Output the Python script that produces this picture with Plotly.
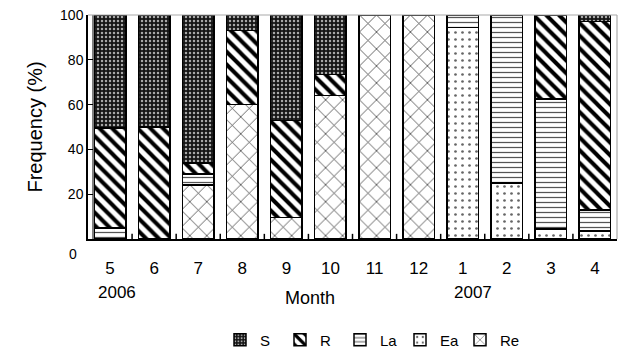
import plotly.graph_objects as go

months = ["5", "6", "7", "8", "9", "10", "11", "12", "1", "2", "3", "4"]
S = [50.5, 50, 66, 7, 47, 26.5, 0, 0, 0, 0, 0, 3]
R = [44.5, 50, 5, 33, 43.5, 9.5, 0, 0, 0, 0, 37.5, 84]
La = [5, 0, 5, 0, 0, 0, 0, 0, 5.5, 75, 58, 9.5]
Ea = [0, 0, 0, 0, 0, 0, 0, 0, 94.5, 25, 4.5, 3.5]
Re = [0, 0, 24, 60, 9.5, 64, 100, 100, 0, 0, 0, 0]
y_ticks = [20, 40, 60, 80, 100]

x = list(range(len(months)))
FONT = "Liberation Sans, Arial, sans-serif"

styles = {
    "S": dict(shape=".", bgcolor="#151515", fgcolor="#a8a8a8", size=4, solidity=0.3),
    "R": dict(shape="\\", bgcolor="white", fgcolor="black", size=9, solidity=0.45),
    "La": dict(shape="-", bgcolor="white", fgcolor="#555555", size=5, solidity=0.25),
    "Ea": dict(shape=".", bgcolor="white", fgcolor="#666666", size=7, solidity=0.12),
    "Re": dict(shape="x", bgcolor="white", fgcolor="#333333", size=12, solidity=0.12),
}

fig = go.Figure()
for name, vals in [("Re", Re), ("Ea", Ea), ("La", La), ("R", R), ("S", S)]:
    st = styles[name]
    yv = [v if v > 0 else None for v in vals]
    fig.add_trace(go.Bar(
        x=x, y=yv, name=name, width=0.715,
        marker=dict(color=st["bgcolor"], line=dict(color="black", width=1.5),
                    pattern=dict(shape=st["shape"], bgcolor=st["bgcolor"], fgcolor=st["fgcolor"],
                                 size=st["size"], solidity=st["solidity"], fillmode="replace")),
    ))

fig.update_layout(
    barmode="stack",
    width=622, height=354,
    margin=dict(l=88, r=5, t=15, b=115, autoexpand=False),
    paper_bgcolor="white", plot_bgcolor="white",
    font=dict(family=FONT, color="black"),
    showlegend=True,
    legend=dict(orientation="h", traceorder="reversed", xref="container", yref="container",
                x=220 / 622, xanchor="left", y=14 / 354, yanchor="middle",
                font=dict(size=15), itemwidth=30, entrywidth=15, entrywidthmode="pixels"),
    xaxis=dict(range=[-0.5, 11.5], tickmode="array", tickvals=x, ticktext=months,
               showline=True, linecolor="black", linewidth=1.5, ticks="",
               showgrid=False, zeroline=False, tickfont=dict(size=17),
               ticklabelstandoff=13, automargin=False),
    yaxis=dict(range=[0, 100], tickmode="array", tickvals=y_ticks,
               showline=True, linecolor="black", linewidth=1.5, ticks="inside", ticklen=5,
               tickcolor="black", tickwidth=1.2, automargin=False,
               showgrid=False, zeroline=False, tickfont=dict(size=14),
               title=dict(text="Frequency (%)", font=dict(size=20), standoff=12)),
)

# minor ticks at the category boundaries on the bottom axis
for i in range(len(months) - 1):
    fig.add_shape(type="line", xref="x", yref="y", x0=i + 0.5, x1=i + 0.5, y0=0, y1=2.3,
                  line=dict(color="black", width=1.5))
# inner line of the left axis frame
fig.add_shape(type="line", xref="paper", yref="y", x0=5 / 529, x1=5 / 529, y0=0, y1=100,
              line=dict(color="black", width=1))
# light top and right borders
fig.add_shape(type="line", xref="paper", yref="paper", x0=0, x1=1, y0=1, y1=1,
              line=dict(color="#aaaaaa", width=1.2))
fig.add_shape(type="line", xref="paper", yref="paper", x0=1, x1=1, y0=0, y1=1,
              line=dict(color="#aaaaaa", width=1.2))

fig.add_annotation(text="0", xref="paper", yref="paper", x=-15 / 529, y=-15 / 224,
                   showarrow=False, font=dict(size=14), xanchor="center", yanchor="middle")
fig.add_annotation(text="2006", xref="paper", yref="paper", x=(117 - 88) / 529, y=-53 / 224,
                   showarrow=False, font=dict(size=17), xanchor="center", yanchor="middle")
fig.add_annotation(text="2007", xref="paper", yref="paper", x=(473 - 88) / 529, y=-53 / 224,
                   showarrow=False, font=dict(size=17), xanchor="center", yanchor="middle")
fig.add_annotation(text="Month", xref="paper", yref="paper", x=(310 - 88) / 529, y=-59 / 224,
                   showarrow=False, font=dict(size=18), xanchor="center", yanchor="middle")

fig.write_html("out.html", config={"displayModeBar": False},
               post_script="document.body.style.margin='0';document.body.style.padding='0';")
